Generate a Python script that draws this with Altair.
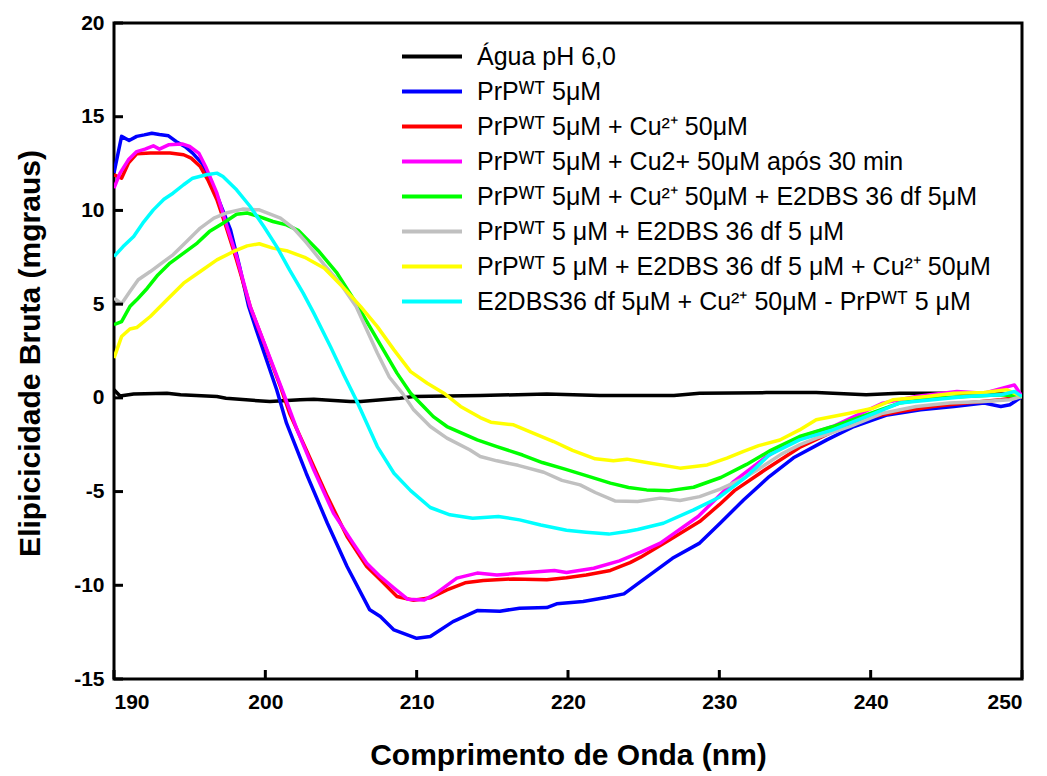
import altair as alt
import pandas as pd

LABELS = [
    "Água pH 6,0",
    "PrPᵂᵀ 5μM",
    "PrPᵂᵀ 5μM + Cu²⁺ 50μM",
    "PrPᵂᵀ 5μM + Cu2+ 50μM após 30 min",
    "PrPᵂᵀ 5μM + Cu²⁺ 50μM + E2DBS 36 df 5μM",
    "PrPᵂᵀ 5 μM + E2DBS 36 df 5 μM",
    "PrPᵂᵀ 5 μM + E2DBS 36 df 5 μM + Cu²⁺ 50μM",
    "E2DBS36 df 5μM + Cu²⁺ 50μM - PrPᵂᵀ 5 μM",
]
COLORS = ["#000000", "#0000ff", "#ff0000", "#ff00ff", "#00ff00", "#c0c0c0", "#ffff00", "#00ffff"]

X_TICKS = [190, 200, 210, 220, 230, 240, 250]
Y_TICKS = [-15, -10, -5, 0, 5, 10, 15, 20]

agua_wl = [190.0, 190.4, 191.3, 193.5, 194.4, 196.8, 197.4, 200.3, 202.3, 203.2, 205.6, 206.3, 208.9,
           209.8, 214.2, 218.6, 222.1, 227.0, 228.7, 233.1, 236.4, 239.7, 241.9, 244.1, 247.5, 250.0]
agua_v = [0.43, 0.10, 0.21, 0.25, 0.16, 0.07, -0.02, -0.20, -0.10, -0.07, -0.20, -0.20, -0.02,
          0.07, 0.12, 0.21, 0.12, 0.12, 0.25, 0.28, 0.28, 0.16, 0.25, 0.25, 0.25, 0.16]

prp_wl = [190.0, 190.5, 191.0, 191.5, 192.0, 192.5, 193.0, 193.6, 194.1, 194.7, 195.2, 195.8, 196.3,
          197.0, 197.7, 198.3, 198.9, 199.4, 200.75, 201.4, 202.7, 204.1, 205.4, 206.9, 207.6, 208.5,
          210.0, 210.9, 212.4, 214.0, 215.5, 216.8, 218.6, 219.25, 221.0, 222.6, 223.7, 224.8, 226.9,
          228.7, 230.05, 231.6, 233.3, 234.9, 237.1, 238.9, 241.1, 243.3, 245.5, 247.5, 248.6, 249.2, 250.0]
prp_v = [12.0, 13.95, 13.73, 13.95, 14.03, 14.12, 14.05, 13.98, 13.68, 13.4, 13.06, 12.52, 11.8,
         10.39, 8.96, 7.0, 4.87, 3.63, 0.43, -1.35, -4.02, -6.69, -9.0, -11.31, -11.67, -12.38,
         -12.83, -12.73, -11.94, -11.35, -11.38, -11.22, -11.19, -10.99, -10.87, -10.64, -10.46, -9.8, -8.56,
         -7.75, -6.69, -5.45, -4.2, -3.2, -2.24, -1.53, -0.91, -0.64, -0.46, -0.28, -0.46, -0.37, 0.07]

cu_wl = [190.0, 190.5, 190.95, 191.5, 192.4, 193.7, 194.6, 195.1, 195.7, 196.2, 196.8, 197.4, 198.1,
         199.0, 201.0, 201.6, 202.7, 204.1, 205.4, 206.7, 207.6, 208.7, 209.8, 210.9, 212.0, 213.2,
         214.4, 216.4, 218.6, 219.9, 221.2, 222.8, 224.1, 224.8, 226.7, 228.7, 230.0, 231.0, 233.0,
         235.3, 237.5, 239.7, 241.9, 244.1, 246.3, 248.6, 250.0]
cu_v = [11.9, 11.72, 12.52, 13.02, 13.06, 13.06, 12.97, 12.79, 12.34, 11.63, 10.57, 9.14, 7.36,
        4.87, 0.6, -0.82, -2.77, -5.27, -7.4, -9.0, -9.71, -10.6, -10.8, -10.67, -10.25, -9.87,
        -9.75, -9.66, -9.71, -9.6, -9.45, -9.21, -8.79, -8.5, -7.58, -6.6, -5.7, -4.95, -3.85,
        -2.65, -1.8, -1.08, -0.73, -0.46, -0.28, -0.1, 0.07]

cu30_wl = [190.0, 190.4, 190.95, 191.5, 192.05, 192.6, 193.0, 193.6, 194.5, 195.0, 195.6, 196.1, 196.8,
           197.4, 198.1, 199.0, 201.2, 202.1, 203.2, 204.5, 205.8, 206.7, 207.6, 208.5, 209.4, 210.5,
           211.3, 212.65, 214.0, 215.3, 216.8, 218.2, 219.1, 219.9, 221.7, 223.4, 224.8, 226.1, 228.6,
           230.9, 233.0, 235.3, 237.5, 240.8, 243.0, 245.7, 247.5, 249.5, 250.0]
cu30_v = [11.19, 11.99, 12.7, 13.14, 13.27, 13.45, 13.27, 13.5, 13.55, 13.41, 13.06, 12.26, 10.92,
          9.32, 7.54, 4.87, 0.25, -1.71, -3.84, -6.15, -7.75, -8.82, -9.54, -10.15, -10.74, -10.78,
          -10.42, -9.62, -9.35, -9.45, -9.35, -9.27, -9.21, -9.32, -9.09, -8.7, -8.23, -7.75, -6.33,
          -4.5, -3.2, -2.1, -1.53, -0.28, 0.07, 0.34, 0.25, 0.69, 0.07]

cue2_wl = [190.0, 190.5, 191.05, 191.5, 192.2, 192.9, 193.7, 194.6, 195.5, 196.3, 197.2, 198.1, 198.8,
           199.6, 200.5, 201.4, 202.2, 203.5, 204.7, 206.0, 206.9, 207.8, 208.7, 209.6, 210.5, 211.1,
           212.0, 214.0, 215.3, 217.0, 218.3, 219.8, 221.2, 222.8, 224.0, 225.2, 226.7, 228.3, 230.1,
           231.8, 233.4, 235.3, 237.5, 239.7, 241.9, 244.1, 246.3, 248.6, 250.0]
cue2_v = [3.9, 4.07, 4.87, 5.23, 5.85, 6.56, 7.19, 7.72, 8.26, 8.87, 9.32, 9.8, 9.86,
          9.67, 9.41, 9.23, 8.92, 7.85, 6.7, 5.05, 3.8, 2.56, 1.32, 0.25, -0.5, -1.0,
          -1.53, -2.24, -2.6, -3.05, -3.45, -3.8, -4.15, -4.55, -4.78, -4.91, -4.95, -4.77, -4.25,
          -3.55, -2.8, -2.06, -1.53, -0.91, -0.28, -0.02, 0.07, 0.16, 0.07]

e2_wl = [190.0, 190.5, 191.05, 191.6, 192.4, 193.15, 193.9, 194.8, 195.7, 196.6, 197.4, 198.5, 199.6,
         201.0, 201.85, 202.7, 203.9, 205.0, 206.0, 206.7, 207.4, 208.2, 209.1, 209.8, 210.9, 212.0,
         213.5, 214.2, 215.3, 216.7, 218.4, 219.6, 220.8, 221.8, 223.1, 224.6, 226.1, 227.4, 228.7,
         230.05, 231.4, 232.7, 234.1, 235.3, 236.4, 238.6, 240.8, 243.0, 245.2, 247.5, 249.2, 250.0]
e2_v = [5.32, 5.02, 5.67, 6.3, 6.74, 7.19, 7.63, 8.34, 9.06, 9.59, 9.86, 10.07, 10.03,
        9.59, 9.06, 8.3, 7.1, 6.05, 4.87, 3.63, 2.39, 1.1, 0.2, -0.64, -1.53, -2.15,
        -2.77, -3.13, -3.36, -3.6, -3.97, -4.4, -4.64, -5.05, -5.5, -5.53, -5.35, -5.48, -5.27,
        -4.87, -4.38, -3.75, -3.0, -2.51, -2.15, -1.53, -0.82, -0.46, -0.28, -0.2, -0.1, 0.07]

e2cu_wl = [190.0, 190.5, 191.05, 191.5, 192.4, 193.5, 194.6, 195.7, 196.8, 197.9, 198.8, 199.6, 200.5,
           201.4, 202.6, 203.9, 205.3, 206.3, 207.4, 208.5, 209.6, 210.7, 211.8, 212.9, 214.2, 214.9,
           216.4, 217.7, 219.05, 220.3, 221.8, 223.0, 223.9, 225.2, 227.4, 229.2, 230.5, 231.6, 232.6,
           234.0, 235.3, 236.4, 238.6, 240.15, 241.5, 243.7, 245.5, 247.5, 249.0, 250.0]
e2cu_v = [2.12, 3.27, 3.67, 3.75, 4.34, 5.23, 6.12, 6.74, 7.36, 7.81, 8.11, 8.22, 7.99,
          7.85, 7.5, 6.92, 5.76, 4.87, 3.8, 2.56, 1.4, 0.78, 0.25, -0.46, -1.05, -1.3,
          -1.44, -1.88, -2.33, -2.8, -3.25, -3.35, -3.27, -3.45, -3.75, -3.58, -3.22, -2.85, -2.55,
          -2.25, -1.71, -1.17, -0.82, -0.55, -0.1, 0.07, 0.25, 0.28, 0.43, 0.07]

dif_wl = [190.0, 190.6, 191.3, 191.9, 192.6, 193.3, 193.9, 194.6, 195.2, 196.1, 196.8, 197.2, 198.1,
          199.0, 199.9, 200.75, 201.6, 202.5, 203.2, 204.3, 205.2, 206.0, 206.6, 207.4, 208.5, 209.6,
          210.9, 212.2, 213.7, 215.4, 216.8, 218.2, 219.9, 221.2, 222.7, 223.9, 224.6, 226.3, 228.3,
          230.0, 231.8, 233.3, 235.3, 237.5, 239.7, 241.9, 244.1, 246.3, 248.6, 249.5, 250.0]
dif_v = [7.54, 8.07, 8.61, 9.32, 10.03, 10.6, 10.92, 11.37, 11.72, 11.9, 11.99, 11.81, 11.1,
         10.21, 9.14, 8.07, 6.83, 5.59, 4.52, 2.74, 1.2, -0.1, -1.17, -2.6, -4.02, -4.95,
         -5.85, -6.24, -6.42, -6.33, -6.51, -6.78, -7.06, -7.17, -7.27, -7.13, -7.02, -6.69, -5.98,
         -5.3, -4.2, -3.05, -2.24, -1.71, -1.0, -0.28, -0.1, 0.07, 0.16, 0.34, 0.07]

SERIES = [(agua_wl, agua_v), (prp_wl, prp_v), (cu_wl, cu_v), (cu30_wl, cu30_v),
          (cue2_wl, cue2_v), (e2_wl, e2_v), (e2cu_wl, e2cu_v), (dif_wl, dif_v)]

frames = []
for i, (lab, (w, v)) in enumerate(zip(LABELS, SERIES)):
    frames.append(pd.DataFrame({"wl": w, "val": v, "serie": lab, "k": i}))
df = pd.concat(frames, ignore_index=True)

FONT = "Liberation Sans"

lines = alt.Chart(df).mark_line(strokeWidth=3.5, strokeJoin="round", clip=True).encode(
    x=alt.X("wl:Q", scale=alt.Scale(domain=[190, 250], nice=False, zero=False),
            axis=alt.Axis(title="Comprimento de Onda (nm)", values=X_TICKS, labelPadding=12,
                          titleX=454, titleY=76, titleBaseline="middle", titleAlign="center")),
    y=alt.Y("val:Q", scale=alt.Scale(domain=[-15, 20], nice=False, zero=False),
            axis=alt.Axis(title="Elipicicidade Bruta (mgraus)", values=Y_TICKS, labelPadding=10,
                          labelExpr="toString(datum.value)",
                          titleX=-84, titleY=330, titleBaseline="middle", titleAlign="center",
                          titleAngle=-90)),
    color=alt.Color("serie:N", sort=LABELS,
                    scale=alt.Scale(domain=LABELS, range=COLORS),
                    legend=alt.Legend(title=None, orient="none", legendX=286, legendY=16,
                                      symbolType="stroke", symbolStrokeWidth=4, symbolSize=3600,
                                      labelFont=FONT, labelFontSize=25, labelColor="black",
                                      labelOffset=13, clipHeight=35, rowPadding=0, labelLimit=0,
                                      symbolOpacity=1)),
    detail="k:N",
)

xt = alt.Chart(pd.DataFrame({"wl": X_TICKS})).mark_rule(strokeWidth=3, color="black").encode(
    x="wl:Q", y=alt.value(656), y2=alt.value(647))
yt = alt.Chart(pd.DataFrame({"val": Y_TICKS})).mark_rule(strokeWidth=3, color="black").encode(
    y="val:Q", x=alt.value(0), x2=alt.value(9))

chart = alt.layer(lines, xt, yt).properties(
    width=908, height=656,
    autosize=alt.AutoSizeParams(type="none"),
    padding={"left": 114, "top": 23, "right": 25, "bottom": 97},
).configure_view(stroke="black", strokeWidth=3).configure_axis(
    domain=False, ticks=False, grid=False,
    labelFont=FONT, labelFontWeight="bold", labelFontSize=21, labelColor="black",
    titleFont=FONT, titleFontWeight="bold", titleFontSize=30, titleColor="black",
)

chart.save("out.html", embed_options={"renderer": "svg", "actions": False})
